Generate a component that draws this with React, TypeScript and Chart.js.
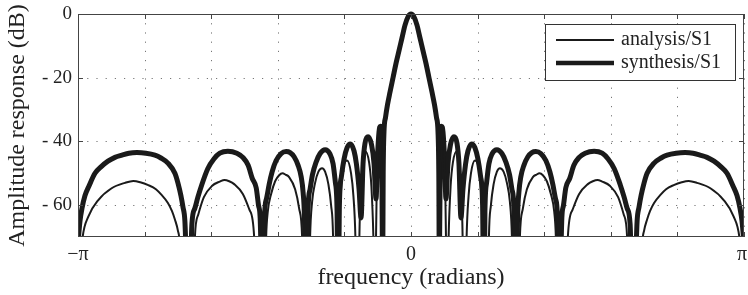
import React, { useEffect, useRef } from "react";
import { Chart, registerables } from "chart.js";

Chart.register(...registerables);

// Frequency axis is in units of pi (radians / pi)
const freqGrid = [-1, -0.8, -0.6, -0.4, -0.2, 0, 0.2, 0.4, 0.6, 0.8, 1];
const freqTickValues = [-1, 0, 1];
const freqTickLabels = ["\u2212\u03c0", "0", "\u03c0"];
const dbTicks = [-60, -40, -20, 0];

const xTitle = "frequency (radians)";
const yTitle = "Amplitude response (dB)";
const seriesNames = ["analysis/S1", "synthesis/S1"];

const synthesisFreq = [
  -1.0, -0.994, -0.988, -0.979, -0.967, -0.949, -0.931, -0.91, -0.889, -0.868, -0.847, -0.823, -0.796, -0.769, -0.751, -0.73, -0.709, -0.7, -0.691, -0.685, -0.679,
  -0.667, -0.658, -0.649, -0.64, -0.628, -0.61, -0.592, -0.574, -0.55, -0.523, -0.505, -0.489, -0.477, -0.465, -0.458, -0.453,
  -0.444, -0.44, -0.434, -0.426, -0.417, -0.405, -0.39, -0.375, -0.363, -0.351, -0.339, -0.33, -0.324, -0.32,
  -0.315, -0.309, -0.303, -0.296, -0.285, -0.273, -0.258, -0.243, -0.234, -0.227, -0.222,
  -0.219, -0.215, -0.209, -0.201, -0.192, -0.182, -0.171, -0.164, -0.156,
  -0.15, -0.144, -0.138, -0.129, -0.1186, -0.111,
  -0.105, -0.1006, -0.0961, -0.0916, -0.0886,
  -0.085, -0.0835, -0.0811, -0.0766, -0.0706, -0.063, -0.054, -0.045, -0.036, -0.027, -0.018, -0.009,
  0, 0.009, 0.018, 0.027, 0.036, 0.045, 0.054, 0.063, 0.0706, 0.0766, 0.0811, 0.0835, 0.085,
  0.0886, 0.0916, 0.0961, 0.1006, 0.105,
  0.111, 0.1186, 0.129, 0.138, 0.144, 0.15,
  0.156, 0.164, 0.171, 0.182, 0.192, 0.201, 0.209, 0.215, 0.219,
  0.222, 0.227, 0.234, 0.243, 0.258, 0.273, 0.285, 0.296, 0.303, 0.309, 0.315,
  0.32, 0.324, 0.33, 0.339, 0.351, 0.363, 0.375, 0.39, 0.405, 0.417, 0.426, 0.434, 0.44, 0.444,
  0.453, 0.458, 0.465, 0.477, 0.489, 0.505, 0.523, 0.55, 0.574, 0.592, 0.61, 0.628, 0.64, 0.649, 0.658, 0.667,
  0.679, 0.685, 0.691, 0.7, 0.709, 0.73, 0.751, 0.769, 0.796, 0.823, 0.847, 0.868, 0.889, 0.91, 0.931, 0.949, 0.967, 0.979, 0.988, 0.994, 1.0,
];
const synthesisDb = [
  -72, -65, -61, -57, -54, -50, -48, -46.2, -45, -44.3, -43.7, -43.5, -43.7, -44.3, -45.2, -46.8, -50, -53, -57, -60.5, -65,
  -100, -66, -61, -57.5, -53.5, -48.5, -45.5, -43.7, -43.1, -43.7, -45, -47.5, -51.5, -54.5, -60, -64,
  -100, -64, -58, -53.5, -49.5, -46, -43.8, -43.2, -43.5, -44.8, -47.5, -51, -56, -64,
  -100, -61, -55, -50.5, -46.5, -43.8, -42.6, -44, -47, -53, -62,
  -100, -60, -51, -45.5, -42, -40.8, -43, -47, -55,
  -64, -47, -40.5, -38.5, -41, -47,
  -58, -45, -37, -35.2, -38,
  -80, -50, -37, -32.5, -28.5, -24.5, -20, -15.5, -11.5, -7.5, -3.5, -0.9,
  0, -0.9, -3.5, -7.5, -11.5, -15.5, -20, -24.5, -28.5, -32.5, -37, -50, -80,
  -38, -35.2, -37, -45, -58,
  -47, -41, -38.5, -40.5, -47, -64,
  -55, -47, -43, -40.8, -42, -45.5, -51, -60, -100,
  -62, -53, -47, -44, -42.6, -43.8, -46.5, -50.5, -55, -61, -100,
  -64, -56, -51, -47.5, -44.8, -43.5, -43.2, -43.8, -46, -49.5, -53.5, -58, -64, -100,
  -64, -60, -54.5, -51.5, -47.5, -45, -43.7, -43.1, -43.7, -45.5, -48.5, -53.5, -57.5, -61, -66, -100,
  -65, -60.5, -57, -53, -50, -46.8, -45.2, -44.3, -43.7, -43.5, -43.7, -44.3, -45, -46.2, -48, -50, -54, -57, -61, -65, -72,
];

const analysisFreq = [
  -1.0, -0.994, -0.986, -0.969, -0.939, -0.899, -0.859, -0.834, -0.813, -0.789, -0.766, -0.749, -0.73, -0.718, -0.709, -0.7, -0.695, -0.688,
  -0.655, -0.649, -0.639, -0.622, -0.598, -0.574, -0.56, -0.546, -0.531, -0.505, -0.485, -0.471, -0.465,
  -0.441, -0.435, -0.43, -0.42, -0.408, -0.396, -0.386, -0.377, -0.366, -0.348, -0.336, -0.327, -0.321,
  -0.308, -0.303, -0.297, -0.288, -0.278, -0.267, -0.258, -0.248, -0.24, -0.234, -0.23,
  -0.219, -0.216, -0.21, -0.203, -0.192, -0.18, -0.173, -0.167, -0.162,
  -0.158, -0.155, -0.15, -0.144, -0.137, -0.126, -0.119, -0.113, -0.108,
  -0.105, -0.1006, -0.0946, -0.0886,
  -0.085, -0.0835, -0.0811, -0.0766, -0.0706, -0.063, -0.054, -0.045, -0.036, -0.027, -0.018, -0.009,
  0, 0.009, 0.018, 0.027, 0.036, 0.045, 0.054, 0.063, 0.0706, 0.0766, 0.0811, 0.0835, 0.085,
  0.0886, 0.0946, 0.1006, 0.105,
  0.108, 0.113, 0.119, 0.126, 0.137, 0.144, 0.15, 0.155, 0.158,
  0.162, 0.167, 0.173, 0.18, 0.192, 0.203, 0.21, 0.216, 0.219,
  0.23, 0.234, 0.24, 0.248, 0.258, 0.267, 0.278, 0.288, 0.297, 0.303, 0.308,
  0.321, 0.327, 0.336, 0.348, 0.366, 0.377, 0.386, 0.396, 0.408, 0.42, 0.43, 0.435, 0.441,
  0.465, 0.471, 0.485, 0.505, 0.531, 0.546, 0.56, 0.574, 0.598, 0.622, 0.639, 0.649, 0.655,
  0.688, 0.695, 0.7, 0.709, 0.718, 0.73, 0.749, 0.766, 0.789, 0.813, 0.834, 0.859, 0.899, 0.939, 0.969, 0.986, 0.994, 1.0,
];
const analysisDb = [
  -90, -80, -70, -63.6, -58.4, -54.7, -53, -52.4, -52.8, -53.7, -55, -56.8, -59.3, -61.8, -64.5, -68, -72, -100,
  -100, -70, -63, -57.5, -54, -52.6, -52.1, -52.5, -53.4, -56.5, -61.5, -70, -100,
  -100, -70, -62, -56.5, -52.5, -50.6, -50, -50.4, -51.2, -55, -61, -70, -100,
  -100, -70, -59, -53, -49.5, -48.4, -49.5, -53.5, -60, -70, -100,
  -100, -70, -55, -48, -46, -50, -57, -70, -100,
  -100, -70, -54, -45.5, -43.2, -46.5, -54, -70, -100,
  -70, -44, -39, -55,
  -100, -50, -37, -32.5, -28.5, -24.5, -20, -15.5, -11.5, -7.5, -3.5, -0.9,
  0, -0.9, -3.5, -7.5, -11.5, -15.5, -20, -24.5, -28.5, -32.5, -37, -50, -100,
  -55, -39, -44, -70,
  -100, -70, -54, -46.5, -43.2, -45.5, -54, -70, -100,
  -100, -70, -57, -50, -46, -48, -55, -70, -100,
  -100, -70, -60, -53.5, -49.5, -48.4, -49.5, -53, -59, -70, -100,
  -100, -70, -61, -55, -51.2, -50.4, -50, -50.6, -52.5, -56.5, -62, -70, -100,
  -100, -70, -61.5, -56.5, -53.4, -52.5, -52.1, -52.6, -54, -57.5, -63, -70, -100,
  -100, -72, -68, -64.5, -61.8, -59.3, -56.8, -55, -53.7, -52.8, -52.4, -53, -54.7, -58.4, -63.6, -70, -80, -90,
];

const FONT = '"Liberation Serif", "Times New Roman", Times, serif';
const INK = "#1a1a1a";
const FRAME = "#444";

const decorPlugin = {
  id: "decor",
  beforeDatasetsDraw(chart: any) {
    const { ctx, chartArea: a, scales } = chart;
    const xs = scales.x;
    const ys = scales.y;
    ctx.save();
    ctx.strokeStyle = "#777";
    ctx.lineWidth = 1;
    ctx.setLineDash([1.2, 8]);
    freqGrid.forEach((v) => {
      const px = Math.round(xs.getPixelForValue(v)) + 0.5;
      ctx.beginPath();
      ctx.moveTo(px, a.top);
      ctx.lineTo(px, a.bottom);
      ctx.stroke();
    });
    dbTicks.forEach((v) => {
      const py = Math.round(ys.getPixelForValue(v)) + 0.5;
      ctx.beginPath();
      ctx.moveTo(a.left, py);
      ctx.lineTo(a.right, py);
      ctx.stroke();
    });
    ctx.restore();
  },
  afterDatasetsDraw(chart: any) {
    const { ctx, chartArea: a, scales } = chart;
    const xs = scales.x;
    const ys = scales.y;
    ctx.save();
    ctx.strokeStyle = FRAME;
    ctx.lineWidth = 1;
    ctx.setLineDash([]);
    const tl = 5;
    freqGrid.forEach((v) => {
      const px = Math.round(xs.getPixelForValue(v)) + 0.5;
      ctx.beginPath();
      ctx.moveTo(px, a.bottom);
      ctx.lineTo(px, a.bottom - tl);
      ctx.moveTo(px, a.top);
      ctx.lineTo(px, a.top + tl);
      ctx.stroke();
    });
    dbTicks.forEach((v) => {
      const py = Math.round(ys.getPixelForValue(v)) + 0.5;
      ctx.beginPath();
      ctx.moveTo(a.left, py);
      ctx.lineTo(a.left + tl, py);
      ctx.moveTo(a.right, py);
      ctx.lineTo(a.right - tl, py);
      ctx.stroke();
    });
    ctx.strokeRect(Math.round(a.left) + 0.5, Math.round(a.top) + 0.5, Math.round(a.right - a.left) - 1, Math.round(a.bottom - a.top) - 1);

    // x tick labels
    ctx.fillStyle = "#222";
    ctx.font = `20px ${FONT}`;
    ctx.textBaseline = "middle";
    ctx.textAlign = "center";
    freqTickValues.forEach((v, i) => {
      const label = freqTickLabels[i];
      const w = ctx.measureText(label).width;
      let px = xs.getPixelForValue(v);
      px = Math.min(px, chart.width - 1 - w / 2);
      ctx.fillText(label, px, a.bottom + 18);
    });

    // legend
    const bw = 190;
    const bh = 56;
    const bx = Math.round(a.right - 9 - bw);
    const by = Math.round(a.top + 10);
    ctx.fillStyle = "#fff";
    ctx.fillRect(bx, by, bw, bh);
    ctx.strokeStyle = "#333";
    ctx.lineWidth = 1;
    ctx.strokeRect(bx + 0.5, by + 0.5, bw, bh);
    const ds = chart.data.datasets;
    const rows = [16, 39];
    ds.forEach((d: any, i: number) => {
      const y = by + rows[i];
      ctx.strokeStyle = INK;
      ctx.lineWidth = i === 0 ? 2 : 4.5;
      ctx.beginPath();
      ctx.moveTo(bx + 11, y);
      ctx.lineTo(bx + 69, y);
      ctx.stroke();
      ctx.fillStyle = "#222";
      ctx.font = `20px ${FONT}`;
      ctx.textAlign = "left";
      ctx.textBaseline = "middle";
      ctx.fillText(d.label, bx + 76, y);
    });
    ctx.restore();
  },
};

export default function App() {
  const canvasRef = useRef<HTMLCanvasElement | null>(null);

  useEffect(() => {
    if (!canvasRef.current) return;
    const chart = new Chart(canvasRef.current, {
      type: "line",
      data: {
        datasets: [
          {
            label: seriesNames[0],
            data: analysisFreq.map((x, i) => ({ x, y: analysisDb[i] })),
            borderColor: INK,
            borderWidth: 2,
            pointRadius: 0,
            cubicInterpolationMode: "monotone",
            borderJoinStyle: "round",
            clip: { left: 0, top: 3, right: 0, bottom: 0 },
          },
          {
            label: seriesNames[1],
            data: synthesisFreq.map((x, i) => ({ x, y: synthesisDb[i] })),
            borderColor: INK,
            borderWidth: 5,
            pointRadius: 0,
            cubicInterpolationMode: "monotone",
            borderJoinStyle: "round",
            clip: { left: 0, top: 3, right: 0, bottom: 0 },
          },
        ],
      } as any,
      options: {
        animation: false,
        responsive: true,
        maintainAspectRatio: false,
        layout: { padding: { top: 14, right: 4, left: 0, bottom: 0 } },
        plugins: { legend: { display: false }, tooltip: { enabled: false } },
        elements: { point: { radius: 0 } },
        scales: {
          x: {
            type: "linear",
            min: -1,
            max: 1,
            grid: { display: false, drawTicks: false },
            border: { display: false },
            ticks: { display: false },
            afterBuildTicks: (s: any) => {
              s.ticks = freqGrid.map((v) => ({ value: v }));
            },
            afterFit: (s: any) => {
              s.height = 58;
              s.paddingLeft = 0;
              s.paddingRight = 0;
            },
            title: {
              display: true,
              text: xTitle,
              color: "#222",
              font: { family: FONT, size: 24 },
              padding: { top: 0, bottom: 3 },
            },
          },
          y: {
            type: "linear",
            min: -70,
            max: 0,
            grid: { display: false, drawTicks: false },
            border: { display: false },
            afterBuildTicks: (s: any) => {
              s.ticks = dbTicks.map((v) => ({ value: v }));
            },
            ticks: {
              color: "#222",
              font: { family: FONT, size: 19 },
              padding: 6,
              callback: (v: any) => (Number(v) === 0 ? "0" : "- " + Math.abs(Number(v))),
            },
            afterFit: (s: any) => {
              s.width = 78;
              s.paddingTop = 0;
              s.paddingBottom = 0;
            },
            title: {
              display: true,
              text: yTitle,
              color: "#222",
              font: { family: FONT, size: 24 },
              padding: { top: 3, bottom: 0 },
            },
          },
        },
      } as any,
      plugins: [decorPlugin],
    });
    return () => chart.destroy();
  }, []);

  return (
    <div style={{ position: "absolute", left: 0, top: 0, width: 748, height: 295, background: "#fff" }}>
      <canvas ref={canvasRef} />
    </div>
  );
}
